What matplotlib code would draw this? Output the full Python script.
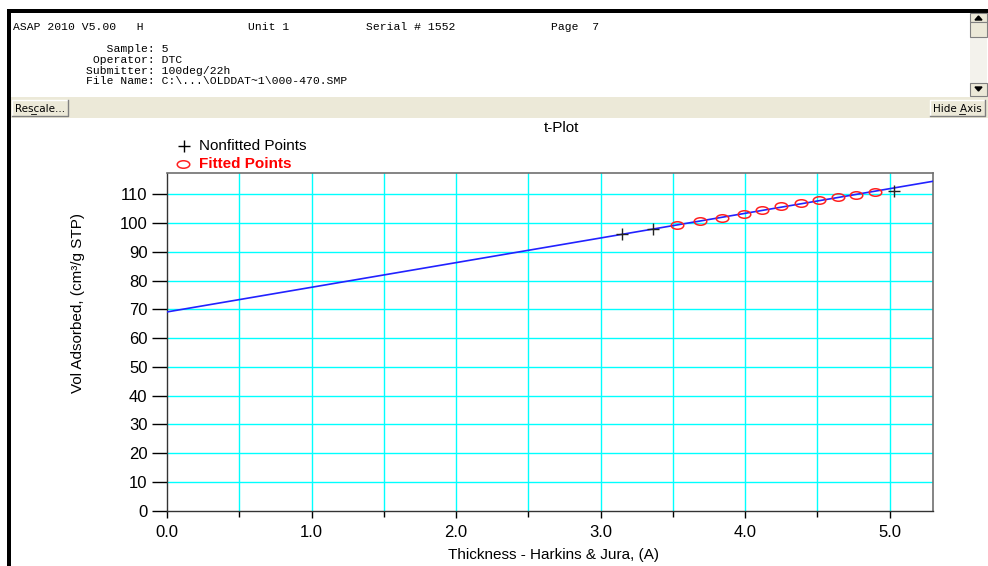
import matplotlib
matplotlib.use("Agg")
import matplotlib.pyplot as plt
import numpy as np
from matplotlib.lines import Line2D
from matplotlib.patches import Rectangle, Polygon
from matplotlib.path import Path
from matplotlib.transforms import Affine2D

plt.rcParams["font.family"] = ["Liberation Sans", "DejaVu Sans"]

# t-plot data
nonfit_t = [3.15, 3.36, 5.03]
nonfit_v = [96.2, 97.8, 111.2]
fit_t = [3.53, 3.69, 3.84, 3.99, 4.12, 4.25, 4.39, 4.51, 4.64, 4.77, 4.90]
fit_v = [99.3, 100.7, 101.9, 103.3, 104.6, 105.8, 107.1, 108.1, 109.1, 109.9, 110.7]
fit_intercept = 69.1
fit_slope = 8.57

x_ticks = [0.0, 1.0, 2.0, 3.0, 4.0, 5.0]
x_minor = [0.5, 1.5, 2.5, 3.5, 4.5]
y_ticks = [0, 10, 20, 30, 40, 50, 60, 70, 80, 90, 100, 110]

header_top = [("ASAP 2010 V5.00   H", 13), ("Unit 1", 248), ("Serial # 1552", 366), ("Page  7", 551)]
header_lines = ["   Sample: 5", " Operator: DTC", "Submitter: 100deg/22h",
                "File Name: C:\\...\\OLDDAT~1\\000-470.SMP"]

W, H = 988, 566
fig = plt.figure(figsize=(W / 100, H / 100), dpi=100, facecolor="white")


def fx(x):
    return x / W


def fy(y):
    return 1 - y / H


def rect(x0, y0, x1, y1, **kw):
    fig.add_artist(Rectangle((fx(x0), fy(y1)), fx(x1) - fx(x0), fy(y0) - fy(y1),
                             transform=fig.transFigure, **kw))


def seg(xs, ys, **kw):
    fig.add_artist(Line2D([fx(v) for v in xs], [fy(v) for v in ys],
                          transform=fig.transFigure, **kw))


# window chrome
rect(7, 9, W, 13, facecolor="black", edgecolor="none")
rect(7, 9, 11, H, facecolor="black", edgecolor="none")
rect(11, 97, W, 118, facecolor="#ECE9D8", edgecolor="none")

# scrollbar
rect(970, 13, 987, 97, facecolor="#F3F2EC", edgecolor="none")
for (a, b) in [(13, 22), (22, 37), (83, 96)]:
    rect(970, a, 987, b, facecolor="#ECE9D8", edgecolor="#808080", linewidth=0.8)
fig.add_artist(Polygon([[fx(975), fy(20)], [fx(982), fy(20)], [fx(978.5), fy(16)]],
                       closed=True, transform=fig.transFigure, color="black"))
fig.add_artist(Polygon([[fx(975), fy(87)], [fx(982), fy(87)], [fx(978.5), fy(91)]],
                       closed=True, transform=fig.transFigure, color="black"))

# buttons
for (x0, x1, label, ux) in [(12, 68, "Rescale...", (31, 36)), (930, 985, "Hide Axis", (959, 965))]:
    rect(x0, 100, x1, 116, facecolor="#ECE9D8", edgecolor="none")
    seg([x0, x0, x1], [116, 100, 100], color="white", linewidth=1)
    seg([x0, x1, x1], [116, 116, 100], color="#808080", linewidth=1)
    fig.text(fx((x0 + x1) / 2), fy(108.5), label, ha="center", va="center",
             fontsize=7.5, family=["DejaVu Sans"], color="black")
    seg(list(ux), [113.5, 113.5], color="black", linewidth=0.6)

# header text
mono = ["Liberation Mono", "DejaVu Sans Mono"]
for txt, x in header_top:
    fig.text(fx(x), fy(27), txt, fontsize=8.2, family=mono, va="center", ha="left")
for i, txt in enumerate(header_lines):
    fig.text(fx(86), fy(49 + i * 10.8), txt, fontsize=8.2, family=mono, va="center", ha="left")

# plot
ax = fig.add_axes([fx(167), fy(510.7), fx(933) - fx(167), fy(173) - fy(510.7)])
ax.set_zorder(5)
ax.set_xlim(0, 5.3)
ax.set_ylim(0, 117.4)

for v in x_ticks[1:] + x_minor:
    ax.axvline(v, color="#00FFFF", linewidth=1, zorder=1)
for v in y_ticks[1:]:
    ax.axhline(v, color="#00FFFF", linewidth=1, zorder=1)

line_x = np.array(ax.get_xlim())
ax.plot(line_x, fit_intercept + fit_slope * line_x, color="#2222FF", linewidth=1.2, zorder=3)

oval = Path.unit_circle().transformed(Affine2D().scale(1.0, 0.6))
ax.plot(fit_t, fit_v, linestyle="none", marker=oval, markersize=9,
        markerfacecolor="none", markeredgecolor="#FF2020", markeredgewidth=1.1, zorder=4)
ax.plot(nonfit_t, nonfit_v, linestyle="none", marker="+", markersize=9,
        color="#222222", markeredgewidth=1.0, zorder=5)

ax.set_xticks(x_ticks)
ax.set_xticklabels(["%.1f" % v for v in x_ticks])
ax.set_xticks(x_minor, minor=True)
ax.set_yticks(y_ticks)
ax.tick_params(axis="y", direction="out", length=11, width=1, pad=3, labelsize=12)
ax.tick_params(axis="x", which="major", direction="out", length=5, width=1, pad=5, labelsize=12)
ax.tick_params(axis="x", which="minor", direction="out", length=4, width=1)
for s in ["top", "right"]:
    ax.spines[s].set_color("#707070")
    ax.spines[s].set_linewidth(1.2)
for s in ["left", "bottom"]:
    ax.spines[s].set_color("#333333")
    ax.spines[s].set_linewidth(1.0)

fig.text(fx(561), fy(128), "t-Plot", ha="center", va="center", fontsize=11)
fig.text(fx(553), fy(555), "Thickness - Harkins & Jura, (A)", ha="center", va="center", fontsize=11)
fig.text(fx(78), fy(303), "Vol Adsorbed, (cm³/g STP)", ha="center", va="center",
         rotation=90, fontsize=11)

# legend
fig.add_artist(Line2D([fx(184)], [fy(146)], transform=fig.transFigure, marker="+",
                      markersize=9, color="black", markeredgewidth=1))
fig.text(fx(199), fy(146), "Nonfitted Points", ha="left", va="center", fontsize=11)
fig.add_artist(Line2D([fx(183)], [fy(164)], transform=fig.transFigure, marker=oval,
                      markersize=9, markerfacecolor="none", markeredgecolor="#FF2020",
                      markeredgewidth=1.1))
fig.text(fx(199), fy(164), "Fitted Points", ha="left", va="center", fontsize=11,
         color="#FF0000", fontweight="bold")

fig.savefig("out.png", dpi=100)
